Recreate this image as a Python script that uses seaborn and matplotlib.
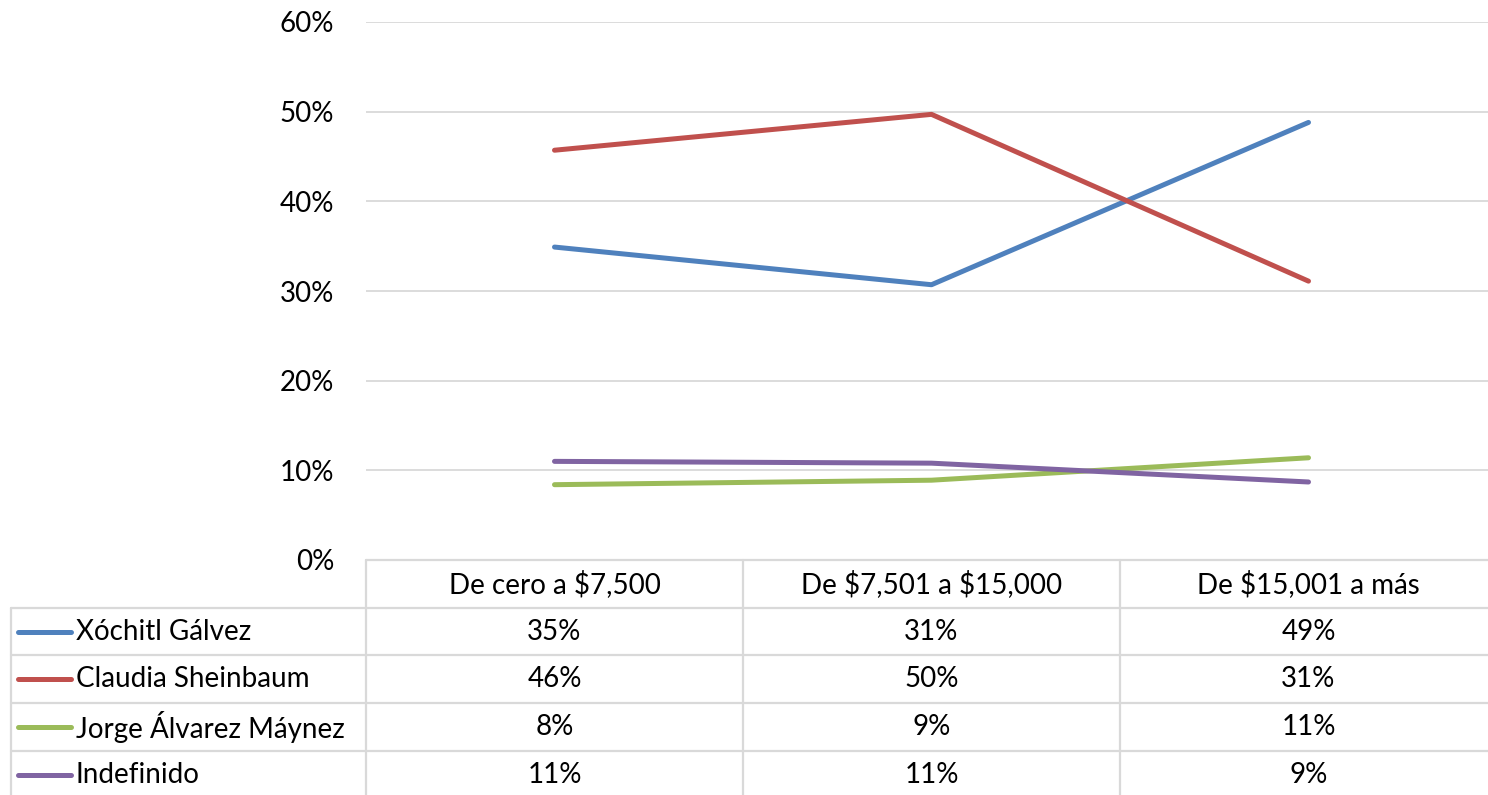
import matplotlib
matplotlib.use("Agg")
import matplotlib.pyplot as plt
from matplotlib.lines import Line2D
from matplotlib.transforms import blended_transform_factory
import seaborn as sns
import pandas as pd

# Income brackets and vote share (%) per candidate
categories = ["De cero a $7,500", "De $7,501 a $15,000", "De $15,001 a más"]
xochitl = [34.9, 30.7, 48.8]
claudia = [45.7, 49.7, 31.1]
jorge = [8.4, 8.9, 11.4]
indefinido = [11.0, 10.8, 8.7]
series_names = ["Xóchitl Gálvez", "Claudia Sheinbaum", "Jorge Álvarez Máynez", "Indefinido"]
series_values = [xochitl, claudia, jorge, indefinido]
colors = ["#4F81BD", "#C0504D", "#9BBB59", "#8064A2"]
yticks = [0, 10, 20, 30, 40, 50, 60]

sns.set_theme(style="white")
plt.rcParams["font.family"] = ["Lato", "DejaVu Sans"]
plt.rcParams["text.parse_math"] = False

FS = 20
W, H = 1488, 795
fig = plt.figure(figsize=(W / 100, H / 100), dpi=100)

def fx(px):
    return px / W

def fy(py):
    return 1 - py / H

ax_left, ax_right, ax_top, ax_bottom = 366, 1497, 22, 560
ax = fig.add_axes([fx(ax_left), fy(ax_bottom), fx(ax_right - ax_left), (ax_bottom - ax_top) / H])

rows = []
for name, vals in zip(series_names, series_values):
    for cat, v in zip(categories, vals):
        rows.append({"Ingreso": cat, "Candidato": name, "Porcentaje": v})
df = pd.DataFrame(rows)

pos = {c: i for i, c in enumerate(categories)}
df["x"] = df["Ingreso"].map(pos)

sns.lineplot(data=df, x="x", y="Porcentaje", hue="Candidato", hue_order=series_names,
             palette=colors, linewidth=3.6, ax=ax, legend=False, sort=False,
             solid_capstyle="round", solid_joinstyle="round", zorder=3)

ax.set_xlim(-0.5, 2.5)
ax.set_ylim(0, 60)
ax.set_yticks(yticks)
ax.set_yticklabels([f"{t}%" for t in yticks], fontsize=FS, color="#000000")
ax.tick_params(axis="y", length=0, pad=23)
ax.set_xticks([])
ax.set_xlabel("")
ax.set_ylabel("")
for s in ax.spines.values():
    s.set_visible(False)
ax.yaxis.grid(True, color="#D9D9D9", linewidth=1.3)
ax.set_axisbelow(True)

# Data table beneath the plot
grid_c = "#D9D9D9"
lw = 1.6
trans = blended_transform_factory(ax.transData, fig.transFigure)
header_top = 560
row_h = 47.7
row_lines = [header_top + row_h * (i + 1) for i in range(len(series_names))]

# top border of header (across value columns only)
fig.add_artist(Line2D([fx(ax_left), 1], [fy(header_top)] * 2, color=grid_c, lw=lw))
for yl in row_lines:
    fig.add_artist(Line2D([fx(11), 1], [fy(yl)] * 2, color=grid_c, lw=lw))
# vertical separators
fig.add_artist(Line2D([fx(11)] * 2, [fy(row_lines[0]), 0], color=grid_c, lw=lw))
for xb in [-0.5, 0.5, 1.5]:
    fig.add_artist(Line2D([xb, xb], [fy(header_top), 0], color=grid_c, lw=lw, transform=trans))

for i, cat in enumerate(categories):
    fig.text(i, fy(header_top + row_h / 2), cat, transform=trans, ha="center", va="center",
             fontsize=FS, color="#000000")

for r, (name, vals, col) in enumerate(zip(series_names, series_values, colors)):
    yc = fy(header_top + row_h * (r + 1) + row_h / 2)
    fig.add_artist(Line2D([fx(18), fx(71)], [yc, yc], color=col, lw=3.6, solid_capstyle="round"))
    fig.text(fx(76), yc, name, ha="left", va="center", fontsize=FS, color="#000000")
    for i, v in enumerate(vals):
        fig.text(i, yc, f"{v:.0f}%", transform=trans, ha="center", va="center",
                 fontsize=FS, color="#000000")

fig.savefig("out.png", dpi=100, facecolor="white")
